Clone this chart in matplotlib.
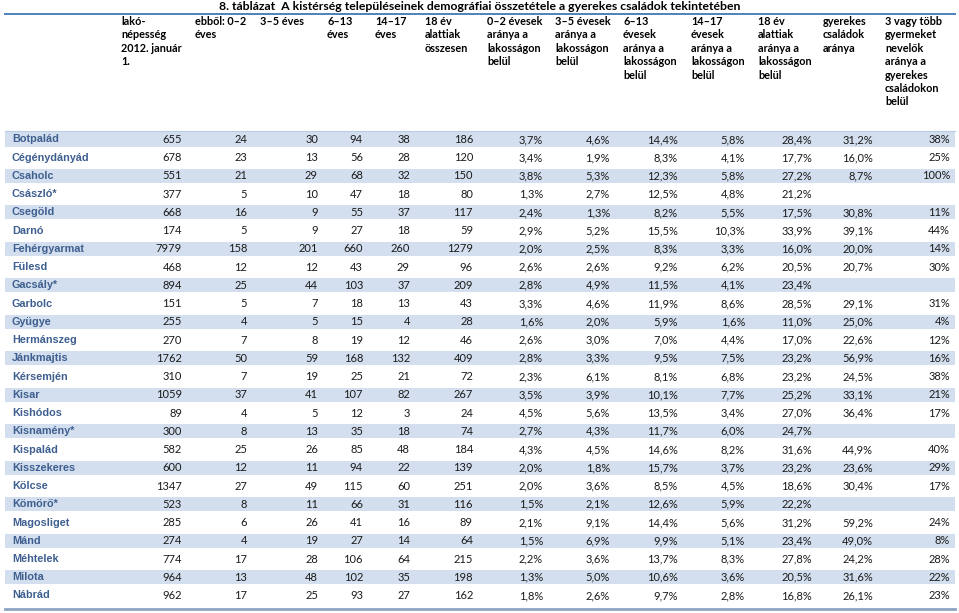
import matplotlib.pyplot as plt

# ---------------------------------------------------------------------------
# adatok
# ---------------------------------------------------------------------------
cim = "8. táblázat  A kistérség településeinek demográfiai összetétele a gyerekes családok tekintetében"

fejlec = [
    ["lakó-", "népesség", "2012. január", "1."],
    ["ebből: 0–2", "éves"],
    ["3–5 éves"],
    ["6–13", "éves"],
    ["14–17", "éves"],
    ["18 év", "alattiak", "összesen"],
    ["0–2 évesek", "aránya a", "lakosságon", "belül"],
    ["3–5 évesek", "aránya a", "lakosságon", "belül"],
    ["6–13", "évesek", "aránya a", "lakosságon", "belül"],
    ["14–17", "évesek", "aránya a", "lakosságon", "belül"],
    ["18 év", "alattiak", "aránya a", "lakosságon", "belül"],
    ["gyerekes", "családok", "aránya"],
    ["3 vagy több", "gyermeket", "nevelők", "aránya a", "gyerekes", "családokon", "belül"],
]

telepulesek = ["Botpalád", "Cégénydányád", "Csaholc", "Császló*", "Csegöld", "Darnó",
               "Fehérgyarmat", "Fülesd", "Gacsály*", "Garbolc", "Gyügye", "Hermánszeg",
               "Jánkmajtis", "Kérsemjén", "Kisar", "Kishódos", "Kisnamény*", "Kispalád",
               "Kisszekeres", "Kölcse", "Kömörő*", "Magosliget", "Mánd", "Méhtelek",
               "Milota", "Nábrád"]

lakonepesseg = [655, 678, 551, 377, 668, 174, 7979, 468, 894, 151, 255, 270, 1762,
                310, 1059, 89, 300, 582, 600, 1347, 523, 285, 274, 774, 964, 962]
eves_0_2 = [24, 23, 21, 5, 16, 5, 158, 12, 25, 5, 4, 7, 50, 7, 37, 4, 8, 25, 12, 27,
            8, 6, 4, 17, 13, 17]
eves_3_5 = [30, 13, 29, 10, 9, 9, 201, 12, 44, 7, 5, 8, 59, 19, 41, 5, 13, 26, 11, 49,
            11, 26, 19, 28, 48, 25]
eves_6_13 = [94, 56, 68, 47, 55, 27, 660, 43, 103, 18, 15, 19, 168, 25, 107, 12, 35, 85,
             94, 115, 66, 41, 27, 106, 102, 93]
eves_14_17 = [38, 28, 32, 18, 37, 18, 260, 29, 37, 13, 4, 12, 132, 21, 82, 3, 18, 48,
              22, 60, 31, 16, 14, 64, 35, 27]
alatt_18 = [186, 120, 150, 80, 117, 59, 1279, 96, 209, 43, 28, 46, 409, 72, 267, 24, 74,
            184, 139, 251, 116, 89, 64, 215, 198, 162]

arany_0_2 = [3.7, 3.4, 3.8, 1.3, 2.4, 2.9, 2.0, 2.6, 2.8, 3.3, 1.6, 2.6, 2.8, 2.3, 3.5,
             4.5, 2.7, 4.3, 2.0, 2.0, 1.5, 2.1, 1.5, 2.2, 1.3, 1.8]
arany_3_5 = [4.6, 1.9, 5.3, 2.7, 1.3, 5.2, 2.5, 2.6, 4.9, 4.6, 2.0, 3.0, 3.3, 6.1, 3.9,
             5.6, 4.3, 4.5, 1.8, 3.6, 2.1, 9.1, 6.9, 3.6, 5.0, 2.6]
arany_6_13 = [14.4, 8.3, 12.3, 12.5, 8.2, 15.5, 8.3, 9.2, 11.5, 11.9, 5.9, 7.0, 9.5, 8.1,
              10.1, 13.5, 11.7, 14.6, 15.7, 8.5, 12.6, 14.4, 9.9, 13.7, 10.6, 9.7]
arany_14_17 = [5.8, 4.1, 5.8, 4.8, 5.5, 10.3, 3.3, 6.2, 4.1, 8.6, 1.6, 4.4, 7.5, 6.8, 7.7,
               3.4, 6.0, 8.2, 3.7, 4.5, 5.9, 5.6, 5.1, 8.3, 3.6, 2.8]
arany_18 = [28.4, 17.7, 27.2, 21.2, 17.5, 33.9, 16.0, 20.5, 23.4, 28.5, 11.0, 17.0, 23.2,
            23.2, 25.2, 27.0, 24.7, 31.6, 23.2, 18.6, 22.2, 31.2, 23.4, 27.8, 20.5, 16.8]
gyerekes_csaladok = [31.2, 16.0, 8.7, None, 30.8, 39.1, 20.0, 20.7, None, 29.1, 25.0,
                     22.6, 56.9, 24.5, 33.1, 36.4, None, 44.9, 23.6, 30.4, None, 59.2,
                     49.0, 24.2, 31.6, 26.1]
harom_vagy_tobb = [38, 25, 100, None, 11, 44, 14, 30, None, 31, 4, 12, 16, 38, 21, 17,
                   None, 40, 29, 17, None, 24, 8, 28, 22, 23]

# ---------------------------------------------------------------------------
# elrendezés (pixelben)
# ---------------------------------------------------------------------------
W, H = 959, 613
fejlec_x = [121, 195, 260, 327, 375, 425, 487, 555, 623, 691, 758, 823, 885]
oszlop_jobb = [182, 247, 318, 363, 410, 473, 543, 610, 678, 745, 812, 873, 950]
sor_y0, sor_dy = 139.5, 18.24
kek = '#4F81BD'
sav = '#D3DFEE'
nev_szin = '#3E5F8F'

fig = plt.figure(figsize=(W / 100, H / 100), dpi=100)
ax = fig.add_axes([0, 0, 1, 1])
ax.set_xlim(0, W)
ax.set_ylim(H, 0)
ax.axis('off')

ax.text(W / 2, 7, cim, ha='center', va='center', fontsize=8.8, fontweight='bold',
        family='Lato', color='black')
ax.plot([5, 955], [13.5, 13.5], color=kek, lw=1.4)

for x, sorok in zip(fejlec_x, fejlec):
    for k, s in enumerate(sorok):
        ax.text(x, 21.5 + k * 13.4, s, ha='left', va='center', fontsize=7.8,
                fontweight='bold', family='Lato', color='black')

ax.plot([5, 955], [131, 131], color='#B8CCE4', lw=0.8)


def fmt_pct(v):
    return '' if v is None else f"{v:.1f}%".replace('.', ',')


def fmt_int_pct(v):
    return '' if v is None else f"{v}%"


oszlopok = [lakonepesseg, eves_0_2, eves_3_5, eves_6_13, eves_14_17, alatt_18]
szazalek = [arany_0_2, arany_3_5, arany_6_13, arany_14_17, arany_18, gyerekes_csaladok]

for i, nev in enumerate(telepulesek):
    y = sor_y0 + i * sor_dy
    if i % 2 == 0:
        ax.axhspan(y - 7.2, y + 7.0, xmin=5 / W, xmax=955 / W, color=sav, lw=0, zorder=0)
    ax.text(12, y, nev, ha='left', va='center', fontsize=7.8, fontweight='bold',
            family='Liberation Sans', color=nev_szin)
    cellak = [str(o[i]) for o in oszlopok] + [fmt_pct(o[i]) for o in szazalek] \
        + [fmt_int_pct(harom_vagy_tobb[i])]
    for xr, c in zip(oszlop_jobb, cellak):
        ax.text(xr, y, c, ha='right', va='center', fontsize=8, family='Lato',
                color='#1a1a1a')

ax.plot([5, 955], [609, 609], color='#8EA4C2', lw=2.0)

fig.savefig('out.png', dpi=100)
